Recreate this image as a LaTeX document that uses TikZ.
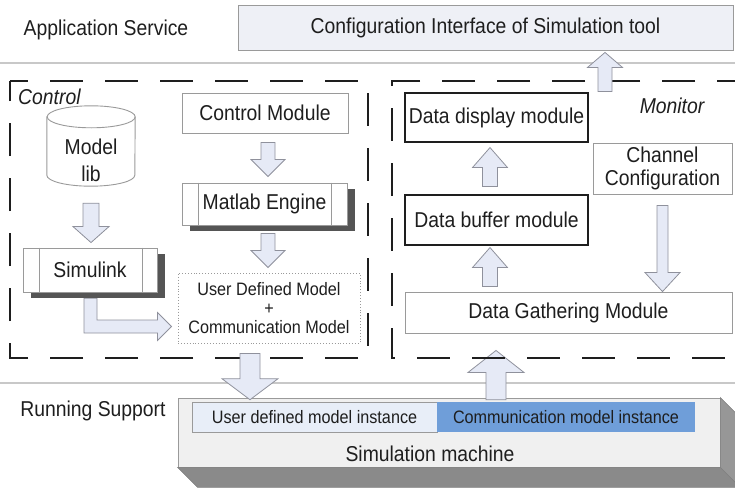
\documentclass[tikz,border=0pt]{standalone}
\usepackage{fontspec}
\setmainfont{Liberation Sans}[FakeStretch=0.9]
\usetikzlibrary{calc,shadows}
\definecolor{arrfill}{HTML}{E6EAF6}
\definecolor{arrline}{HTML}{8F919C}
\definecolor{boxline}{HTML}{9A9A9A}
\definecolor{cfgfill}{HTML}{EEF0F6}
\definecolor{sepgray}{HTML}{C8C8C8}
\definecolor{shadowc}{HTML}{555555}
\definecolor{udmfill}{HTML}{E8EEF8}
\definecolor{commfill}{HTML}{6F9ED9}
\definecolor{machfill}{HTML}{F0F0F0}
\definecolor{machbot}{HTML}{8A8A8A}
\definecolor{machsd}{HTML}{979797}
\definecolor{inkc}{HTML}{1E1E1E}
\newcommand\vblk[5]{%
  \draw[blkarrow] ($(#1)+(-#3,0)$) -- ($(#2)+(-#3,#5)$) -- ($(#2)+(-#4,#5)$) -- (#2)
    -- ($(#2)+(#4,#5)$) -- ($(#2)+(#3,#5)$) -- ($(#1)+(#3,0)$) -- cycle;}
\begin{document}
\begin{tikzpicture}[x=1pt,y=-1pt,
  txt/.style={font=\fontsize{21.5}{24}\selectfont, inner sep=0pt, text=inkc},
  smalltxt/.style={font=\fontsize{18}{19}\selectfont, inner sep=0pt, text=inkc},
  gbox/.style={draw=boxline, fill=white, line width=0.9pt, txt},
  kbox/.style={draw=inkc, fill=white, line width=1.1pt, txt},
  shbox/.style={gbox, drop shadow={shadow xshift=8pt, shadow yshift=-6pt, fill=shadowc, opacity=1}},
  boxl/.style={draw=boxline, line width=0.9pt},
  blkarrow/.style={fill=arrfill, draw=arrline, line width=0.8pt, line join=miter},
  dashbox/.style={draw=inkc, line width=2.6pt, dash pattern=on 33pt off 22pt},
  sepl/.style={draw=sepgray, line width=1.6pt},
  cyl/.style={draw=boxline, fill=white, line width=0.9pt},
]
\useasboundingbox (0,0) rectangle (735,487);
\clip (0,0) rectangle (735,487);

% ---- nodes ----
\node[gbox, fill=cfgfill, minimum width=495pt, minimum height=45pt] (cfg) at (485.5,27.5) {Configuration Interface of Simulation tool};
\node[txt] (app) at (106,30) {Application Service};
\node[txt, font=\fontsize{21.5}{24}\selectfont\itshape, anchor=west] (ctl) at (18,97) {Control};
\node[txt, font=\fontsize{21.5}{24}\selectfont\itshape] (mon) at (672,106) {Monitor};

% model lib cylinder
\node[minimum width=88pt, minimum height=80pt, inner sep=0pt] (lib) at (91,146) {};
\draw[cyl] ($(lib.north west)+(0,11)$) -- ($(lib.south west)+(0,-11)$)
   arc[start angle=180,end angle=360,x radius=44pt,y radius=11pt]
   -- ($(lib.north east)+(0,11)$)
   arc[start angle=0,end angle=180,x radius=44pt,y radius=11pt] -- cycle;
\draw[cyl, fill=none] ($(lib.north east)+(0,11)$) arc[start angle=0,end angle=-180,x radius=44pt,y radius=11pt];
\node[txt, align=center, font=\fontsize{21.5}{27}\selectfont] (libtxt) at (91,160) {Model\\lib};

\node[gbox, minimum width=166pt, minimum height=40pt] (cm) at (265,113) {Control Module};

% model box and L-shaped arrow from Simulink (drawn before Simulink)
\node[draw, dotted, draw=boxline, line width=0.9pt, fill=white, minimum width=182pt, minimum height=70pt, smalltxt, align=center] (udm) at (269,308) {User Defined Model\\+\\Communication Model};
\node[inner sep=0pt, minimum width=134pt, minimum height=44pt] (simph) at (90,270) {};
\coordinate (ls) at ($(simph.south)+(0.5,6)$);
\coordinate (lt) at ($(udm.west)+(-6,18.5)$);
\draw[blkarrow] ($(ls)+(-6.5,0)$) -- ($(ls|-lt)+(-6.5,6.5)$) -- ($(lt)+(-14,6.5)$) -- ($(lt)+(-14,14)$)
   -- (lt) -- ($(lt)+(-14,-14)$) -- ($(lt)+(-14,-6.5)$) -- ($(ls|-lt)+(6.5,-6.5)$) -- ($(ls)+(6.5,0)$) -- cycle;

\node[shbox, minimum width=134pt, minimum height=44pt] (sim) at (90,270) {Simulink};
\draw[boxl] ($(sim.north west)+(17,0)$) -- ($(sim.south west)+(17,0)$);
\draw[boxl] ($(sim.north east)+(-15,0)$) -- ($(sim.south east)+(-15,0)$);

\node[shbox, minimum width=165pt, minimum height=42pt] (ml) at (264.5,204) {Matlab Engine};
\draw[boxl] ($(ml.north west)+(17,0)$) -- ($(ml.south west)+(17,0)$);
\draw[boxl] ($(ml.north east)+(-16,0)$) -- ($(ml.south east)+(-16,0)$);

\node[kbox, minimum width=183pt, minimum height=49pt] (dd) at (496.5,117.5) {Data display module};
\node[kbox, minimum width=183pt, minimum height=50pt] (db) at (496.5,220) {Data buffer module};
\node[gbox, minimum width=139pt, minimum height=51pt, align=center, font=\fontsize{21.5}{23.5}\selectfont] (ch) at (662.5,168.5) {Channel\\Configuration};
\node[gbox, minimum width=327pt, minimum height=41pt] (dg) at (568.5,312.5) {Data Gathering Module};

% running support
\node[txt] (run) at (93,411) {Running Support};
\node[draw=boxline, line width=0.8pt, fill=machfill, minimum width=542pt, minimum height=69pt] (mach) at (449,432.5) {};
\filldraw[fill=machbot, draw=gray, line width=0.6pt] (mach.south west) -- (mach.south east) -- ($(mach.south east)+(20,20)$) -- ($(mach.south west)+(20,20)$) -- cycle;
\filldraw[fill=machsd, draw=gray, line width=0.6pt] (mach.north east) -- ($(mach.north east)+(20,20)$) -- ($(mach.south east)+(20,20)$) -- (mach.south east) -- cycle;
\node[draw=boxline, line width=0.6pt, fill=udmfill, smalltxt, minimum width=245pt, minimum height=30pt] (udmi) at (314.5,417) {User defined model instance};
\node[fill=commfill, smalltxt, minimum width=258pt, minimum height=30pt] (commi) at (566,417) {Communication model instance};
\node[txt] (machtxt) at (430,454) {Simulation machine};

% ---- separator lines ----
\draw[sepl] (0,63) -- (735,63);
\draw[sepl] (0,383) -- (735,383);

% arrow up into gathering (under dashed line)
\coordinate (a5s) at ($(commi.north)+(-70,-2)$);
\coordinate (a5t) at ($(a5s|-dg.south)+(0,17)$);
\vblk{a5s}{a5t}{10}{28}{22}

% ---- dashed frames ----
\draw[dashbox, dash phase=15pt] (10,81) -- (368,81) -- (368,358) -- (10,358) -- cycle;
\draw[dashbox, dash phase=15pt] (735,81) -- (392,81) -- (392,358) -- (735,358);

% ---- block arrows ----
\coordinate (a1s) at ($(lib.south)+(0,17)$);
\coordinate (a1t) at ($(a1s|-sim.north)+(0,-5)$);
\vblk{a1s}{a1t}{8}{18}{-16}
\coordinate (a2s) at ($(cm.south)+(3,9)$);
\coordinate (a2t) at ($(a2s|-ml.north)+(0,-6)$);
\vblk{a2s}{a2t}{7}{17}{-17}
\coordinate (a3s) at ($(ml.south)+(3.5,8)$);
\coordinate (a3t) at ($(a3s|-udm.north)+(0,-5)$);
\vblk{a3s}{a3t}{7}{17}{-17}
\coordinate (a4s) at ($(udm.south)+(-19,10)$);
\coordinate (a4t) at ($(a4s|-udmi.north)+(0,-2)$);
\vblk{a4s}{a4t}{10}{28}{-21}
\coordinate (a6s) at ($(dg.north)+(-78.5,-5)$);
\coordinate (a6t) at ($(a6s|-db.south)+(0,2)$);
\vblk{a6s}{a6t}{7.5}{17.5}{20}
\coordinate (a7s) at ($(db.north)+(-6.5,-8)$);
\coordinate (a7t) at ($(a7s|-dd.south)+(0,5)$);
\vblk{a7s}{a7t}{7.5}{17.5}{20}
\coordinate (a8s) at ($(ch.south)+(0,11)$);
\coordinate (a8t) at (a8s|-dg.north);
\vblk{a8s}{a8t}{5.5}{17.5}{-19}
\coordinate (a9s) at ($(dd.north)+(108.5,-1)$);
\coordinate (a9t) at ($(a9s|-cfg.south)+(0,2)$);
\vblk{a9s}{a9t}{7}{17.5}{15}
\end{tikzpicture}
\end{document}
